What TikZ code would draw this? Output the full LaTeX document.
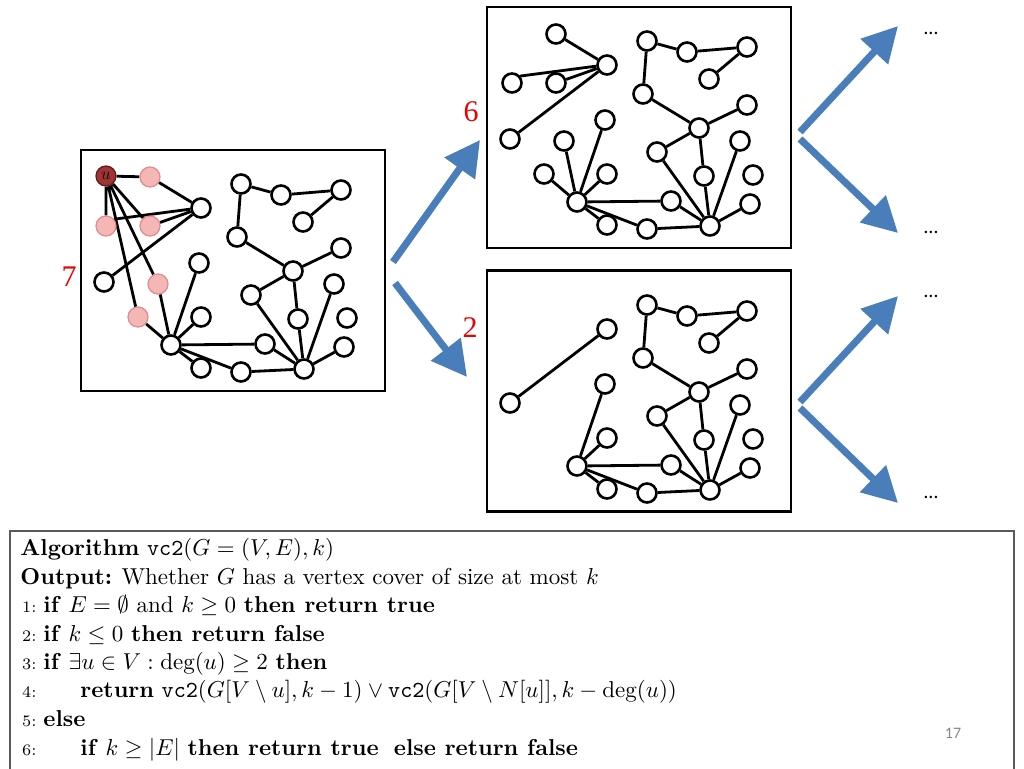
\documentclass[tikz,border=0pt]{standalone}
\usepackage{fontspec}
\usepackage{amssymb}
\newfontfamily\digitfont{Liberation Serif}
\newfontfamily\pagefont{Carlito}
\usetikzlibrary{arrows.meta}
\definecolor{arrowblue}{RGB}{74,126,187}
\definecolor{pinkfill}{RGB}{245,182,182}
\definecolor{pinkborder}{RGB}{222,140,140}
\definecolor{ufill}{RGB}{160,52,52}
\definecolor{uborder}{RGB}{95,25,25}
\definecolor{numred}{RGB}{235,0,0}
\definecolor{framegray}{RGB}{90,90,90}
\definecolor{pagegray}{RGB}{137,137,137}
\pgfdeclarelayer{bottom}
\pgfdeclarelayer{background}
\pgfsetlayers{bottom,background,main}
\newcommand{\commonnodes}{%
\node[vtx] (A) at (201,208) {};
\node[vtx] (w1) at (104,282) {};
\node[vtx] (w2) at (199,263) {};
\node[vtx] (w3) at (201,317) {};
\node[vtx] (B) at (171,345) {};
\node[vtx] (w4) at (201,368) {};
\node[vtx] (w5) at (241,372) {};
\node[vtx] (w6) at (265,344) {};
\node[vtx] (C) at (304,369) {};
\node[vtx] (w7) at (251,295) {};
\node[vtx] (D) at (293,271) {};
\node[vtx] (w8) at (298,319) {};
\node[vtx] (w9) at (334,284) {};
\node[vtx] (w10) at (341,248) {};
\node[vtx] (w11) at (347,318) {};
\node[vtx] (w12) at (344,347) {};
\node[vtx] (E) at (237,237) {};
\node[vtx] (F) at (241,184) {};
\node[vtx] (G) at (281,195) {};
\node[vtx] (H) at (341,190) {};
\node[vtx] (I) at (303,222) {};
}
\newcommand{\commonedges}{%
\draw[gedge] (w1) -- (A) (w2) -- (B) (w3) -- (B) (B) -- (w4) (B) -- (w5)
  (B) -- (w6) (w5) -- (C) (w6) -- (C) (w7) -- (C) (w8) -- (C) (w9) -- (C)
  (w12) -- (C) (D) -- (w8) (D) -- (w7) (D) -- (w10) (E) -- (D) (F) -- (E)
  (F) -- (G) (G) -- (H) (H) -- (I);
}
\newcommand{\pnodes}[1]{%
\node[#1] (p1) at (150,177) {};
\node[#1] (p2) at (106,226) {};
\node[#1] (p3) at (150,226) {};
\node[#1] (p4) at (158,284) {};
\node[#1] (p5) at (138,317) {};
}
\newcommand{\pedges}{%
\draw[gedge] (p1) -- (A) (p2.40) -- (A.186) (p3) -- (A) (p4) -- (B) (p5) -- (B);
}
\begin{document}
\begin{tikzpicture}[x=1pt,y=-1pt,
  vtx/.style={circle, draw=black, line width=2.6pt, fill=white, minimum size=19pt, inner sep=0pt},
  pinkv/.style={vtx, draw=pinkborder, fill=pinkfill, line width=1.2pt, minimum size=20pt},
  uvtx/.style={vtx, draw=uborder, fill=ufill, line width=1.2pt, minimum size=20pt, font=\fontsize{18}{18}\selectfont},
  gedge/.style={line width=2.8pt, black},
  graphbox/.style={draw=black, line width=2.4pt, minimum width=304pt, minimum height=241pt, inner sep=0pt},
  bigarrow/.style={draw=arrowblue, fill=arrowblue, line width=7pt, -{Triangle[width=36pt,length=35pt]}},
  rednum/.style={text=numred, font=\digitfont\fontsize{30}{30}\selectfont, inner sep=0pt},
  dotlabel/.style={font=\pagefont\fontsize{20}{20}\selectfont, inner sep=0pt},
  algline/.style={anchor=base west, inner sep=0pt, scale=2.3, transform shape, font=\fontsize{10}{12}\selectfont},
  algnum/.style={anchor=base east, inner sep=0pt, scale=2.3, transform shape, font=\fontsize{7}{9}\selectfont}
]
\useasboundingbox (0,0) rectangle (1024,768);
\begin{pgfonlayer}{bottom}
\fill[white] (0,0) rectangle (1024,768);
\end{pgfonlayer}

% graph frames
\node[graphbox] (leftbox) at (233,270.5) {};
\node[graphbox] (topbox) at (639,127.5) {};
\node[graphbox] (botbox) at (639,391) {};

% left graph with u
\begin{scope}[name prefix=L-]
\commonnodes
\pnodes{pinkv}
\node[uvtx] (u) at (106,176) {$u$};
\begin{pgfonlayer}{background}
\commonedges
\pedges
\draw[gedge] (u) -- (p1) (u) -- (p2) (u) -- (p3) (u) -- (p4) (u) -- (p5);
\end{pgfonlayer}
\end{scope}

% top right graph: G - u
\begin{scope}[shift={(406,-143)}, name prefix=T-]
\commonnodes
\pnodes{vtx}
\begin{pgfonlayer}{background}
\commonedges
\pedges
\end{pgfonlayer}
\end{scope}

% bottom right graph: G - N[u]
\begin{scope}[shift={(406,121)}, name prefix=R-]
\commonnodes
\begin{pgfonlayer}{background}
\commonedges
\end{pgfonlayer}
\end{scope}

% parameter labels
\node[rednum] (k7) at (69,277) {7};
\node[rednum] (k6) at (471,112) {6};
\node[rednum] (k2) at (470,328) {2};

% branching arrows
\coordinate (a1s) at (393,262);
\coordinate (a1e) at (480,140);
\coordinate (a2s) at (395,283);
\coordinate (a2e) at (467,377);
\coordinate (a3s) at (800,132);
\coordinate (a3e) at (898,26);
\coordinate (a4s) at (800,139);
\coordinate (a4e) at (898,233);
\coordinate (a5s) at (800,402);
\coordinate (a5e) at (898,296);
\coordinate (a6s) at (800,408);
\coordinate (a6e) at (898,503);
\draw[bigarrow] (a1s) -- (a1e);
\draw[bigarrow] (a2s) -- (a2e);
\draw[bigarrow] (a3s) -- (a3e);
\draw[bigarrow] (a4s) -- (a4e);
\draw[bigarrow] (a5s) -- (a5e);
\draw[bigarrow] (a6s) -- (a6e);

\node[dotlabel] (d1) at (931,33) {…};
\node[dotlabel] (d2) at (931,232) {…};
\node[dotlabel] (d3) at (931,296) {…};
\node[dotlabel] (d4) at (931,497) {…};

% algorithm frame
\draw[framegray, line width=1.2pt] (10,772) -- (10,531) -- (1014,531) -- (1014,772);

\node[algline] (l0) at (20,555.5) {\textbf{Algorithm} \texttt{vc2}$(G=(V,E),k)$};
\node[algline] (l1) at (20,584) {\textbf{Output:}\hspace{4pt}Whether $G$ has a vertex cover of size at most $k$};
\node[algnum] (n1) at (37,612.5) {1:};
\node[algline] (l2) at (43,612.5) {\textbf{if} $E=\emptyset$ and $k\geq 0$ \textbf{then return true}};
\node[algnum] (n2) at (37,641) {2:};
\node[algline] (l3) at (43,641) {\textbf{if} $k\leq 0$ \textbf{then return false}};
\node[algnum] (n3) at (37,669.5) {3:};
\node[algline] (l4) at (43,669.5) {\textbf{if} $\exists u\in V:\deg(u)\geq 2$ \textbf{then}};
\node[algnum] (n4) at (37,697.5) {4:};
\node[algline] (l5) at (80,697.5) {\textbf{return} \texttt{vc2}$(G[V\setminus u],k-1)\vee{}$\texttt{vc2}$(G[V\setminus N[u]],k-\deg(u))$};
\node[algnum] (n5) at (37,726) {5:};
\node[algline] (l6) at (43,726) {\textbf{else}};
\node[algnum] (n6) at (37,755) {6:};
\node[algline] (l7) at (80,755) {\textbf{if} $k\geq|E|$ \textbf{then return true}\ \ \textbf{else return false}};

\node[text=pagegray, font=\pagefont\fontsize{16}{16}\selectfont, inner sep=0pt] (pg) at (953,733) {17};
\end{tikzpicture}
\end{document}
